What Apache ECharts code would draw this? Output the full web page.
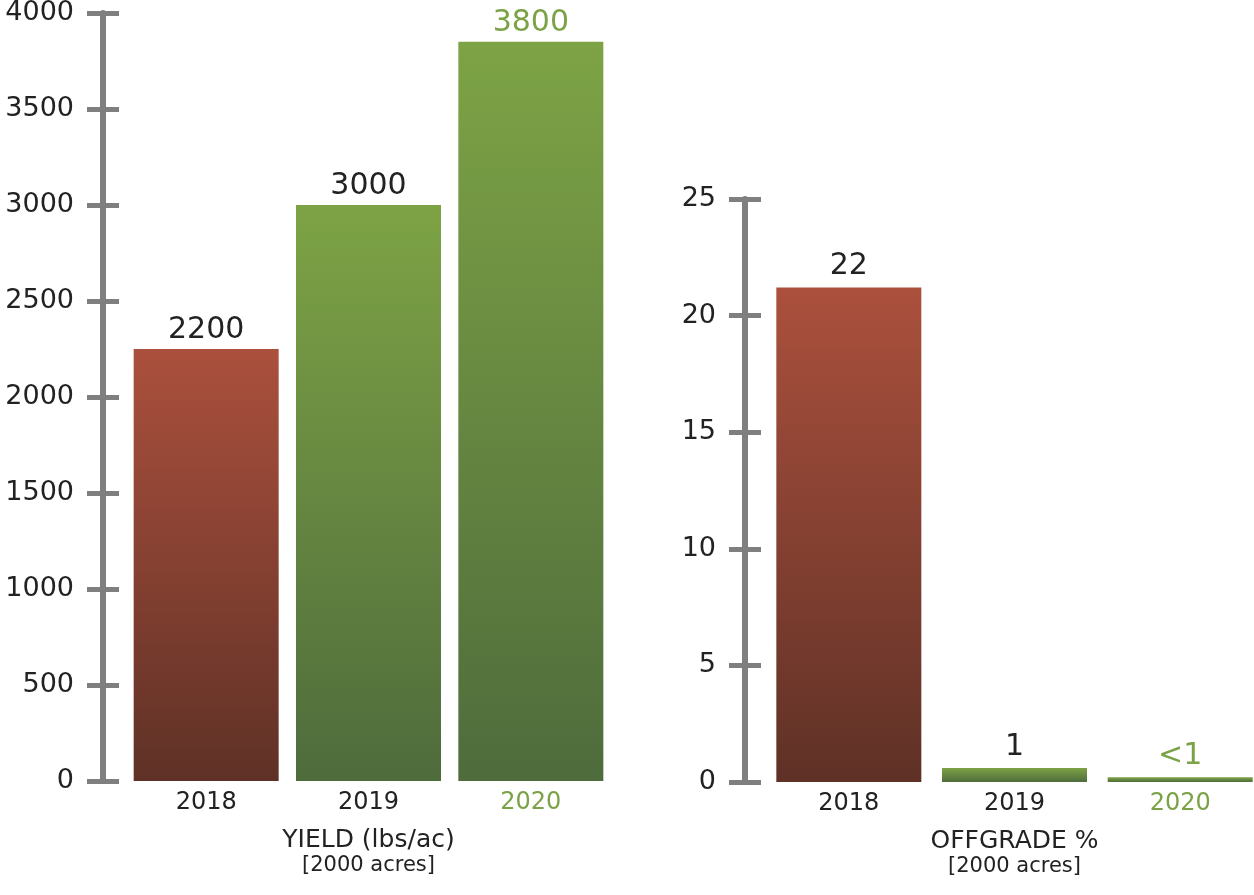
<!DOCTYPE html>
<html lang="en">
<head>
    <meta charset="UTF-8">
    <title>Yield and Offgrade</title>
    <script src="https://cdn.jsdelivr.net/npm/echarts@6.0.0/dist/echarts.min.js"></script>
    <style>
        html, body { margin: 0; padding: 0; background: #fff; }
    </style>
</head>
<body>
<div id="chart" style="width: 1254px; height: 895px;"></div>

<script>
    // data
    var years = ['2018', '2019', '2020'];
    var yieldValues = [2250, 3000, 3850];      // bar heights
    var yieldLabels = ['2200', '3000', '3800']; // printed labels
    var offgradeValues = [21.2, 0.6, 0.2];
    var offgradeLabels = ['22', '1', '<1'];

    var FONT = 'DejaVu Sans';
    var DARK = '#222222';
    var GREEN = '#7ba246';
    var AXIS_GREY = '#7f7f7f';

    var redFill = new echarts.graphic.LinearGradient(0, 0, 0, 1, [
        {offset: 0, color: '#ab503d'},
        {offset: 1, color: '#5f3126'}
    ]);
    var greenFill = new echarts.graphic.LinearGradient(0, 0, 0, 1, [
        {offset: 0, color: '#7da345'},
        {offset: 1, color: '#4e6c3c'}
    ]);

    function catData() {
        return years.map(function (y, i) {
            return i === 2 ? {value: y, textStyle: {color: GREEN}} : y;
        });
    }

    function barData(values) {
        return values.map(function (v, i) {
            return {
                value: v,
                itemStyle: {color: i === 0 ? redFill : greenFill},
                label: {color: i === 2 ? GREEN : DARK}
            };
        });
    }

    // two y axes per grid: one with ticks outside, one with ticks inside,
    // so each tick crosses the axis line
    function yAxes(grid, max, interval, offset) {
        return [{
            gridIndex: grid, type: 'value', min: 0, max: max, interval: interval,
            position: 'left', offset: offset,
            axisLine: {show: true, lineStyle: {color: AXIS_GREY, width: 6}},
            axisTick: {show: true, length: 16, lineStyle: {color: AXIS_GREY, width: 5}},
            axisLabel: {
                margin: 29, fontFamily: FONT, fontSize: 27, color: DARK,
                formatter: function (v) { return String(v); }
            },
            splitLine: {show: false}
        }, {
            gridIndex: grid, type: 'value', min: 0, max: max, interval: interval,
            position: 'left', offset: offset,
            axisLine: {show: false},
            axisTick: {show: true, inside: true, length: 16, lineStyle: {color: AXIS_GREY, width: 5}},
            axisLabel: {show: false},
            splitLine: {show: false}
        }];
    }

    function xAxis(grid, title) {
        return {
            gridIndex: grid, type: 'category', data: catData(),
            axisLine: {show: false},
            axisTick: {show: false},
            axisLabel: {margin: 10, fontFamily: FONT, fontSize: 24, color: DARK},
            name: title + '\n{sub|[2000 acres]}',
            nameLocation: 'middle',
            nameGap: 45,
            nameTextStyle: {
                fontFamily: FONT, fontSize: 25, color: DARK, lineHeight: 28,
                rich: {sub: {fontFamily: FONT, fontSize: 21, color: DARK, lineHeight: 24}}
            }
        };
    }

    var chart = echarts.init(document.getElementById('chart'));
    var option = {
        animation: false,
        grid: [
            {left: 125, top: 13, width: 487, height: 768, outerBoundsMode: 'none'},
            {left: 766, top: 199, width: 497, height: 583, outerBoundsMode: 'none'}
        ],
        xAxis: [xAxis(0, 'YIELD (lbs/ac)'), xAxis(1, 'OFFGRADE %')],
        yAxis: yAxes(0, 4000, 500, 22).concat(yAxes(1, 25, 5, 21)),
        series: [{
            type: 'bar', xAxisIndex: 0, yAxisIndex: 0,
            barWidth: 145,
            data: barData(yieldValues),
            label: {
                show: true, position: 'top', distance: 4,
                fontFamily: FONT, fontSize: 30,
                formatter: function (p) { return yieldLabels[p.dataIndex]; }
            }
        }, {
            type: 'bar', xAxisIndex: 1, yAxisIndex: 2,
            barWidth: 145,
            data: barData(offgradeValues),
            label: {
                show: true, position: 'top', distance: 6,
                fontFamily: FONT, fontSize: 30,
                formatter: function (p) { return offgradeLabels[p.dataIndex]; }
            }
        }]
    };

    chart.setOption(option);
</script>
</body>
</html>
